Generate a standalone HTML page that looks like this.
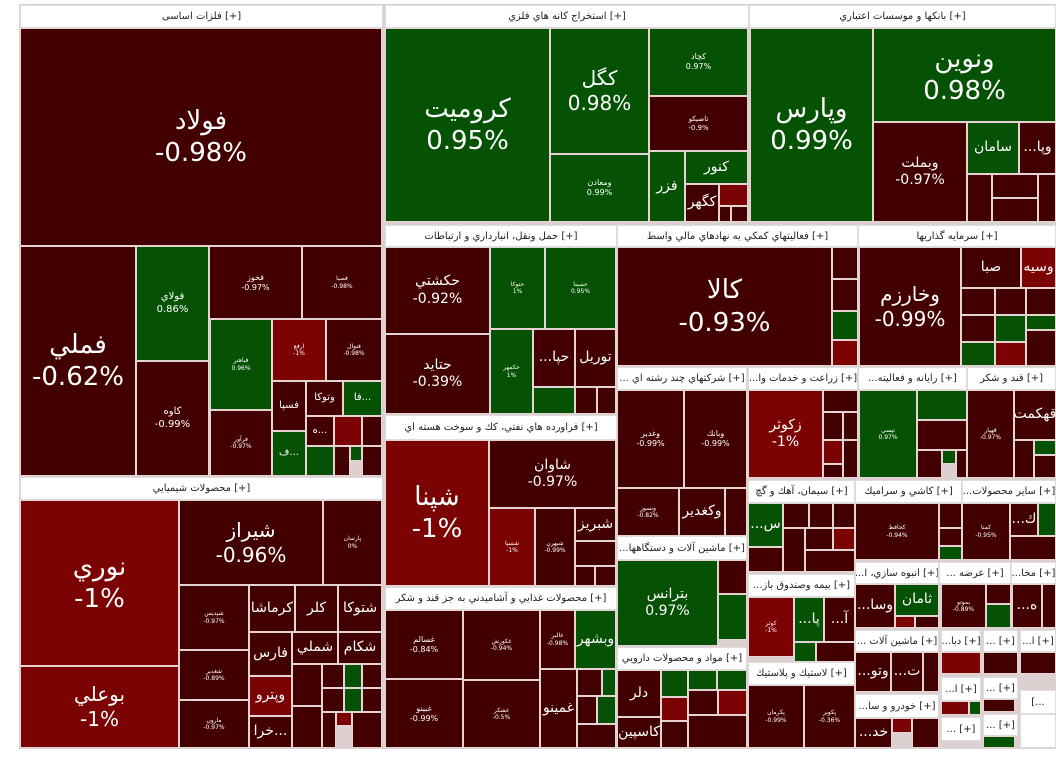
<!DOCTYPE html>
<html><head><meta charset="utf-8"><style>
body{margin:0;width:1056px;height:778px;background:#fff;position:relative;overflow:hidden;font-family:"DejaVu Sans","Liberation Sans",sans-serif}
.t{position:absolute;box-sizing:border-box;border:1px solid #e6d4d4;color:#fff;display:flex;flex-direction:column;align-items:center;justify-content:center;text-align:center;overflow:hidden;line-height:1.25;white-space:nowrap}
.d{background:#430000}.g{background:#055205}.r{background:#7c0303}
.h{position:absolute;box-sizing:border-box;background:#fff;color:#222;font-size:10px;text-align:center;border:1px solid #ddd;display:flex;align-items:center;justify-content:center;white-space:nowrap;overflow:hidden}
.xl{font-size:26px}.l{font-size:20px}.m{font-size:14px}.s{font-size:10px}.xs{font-size:6px}
#bg{position:absolute;left:19px;top:4px;width:1037px;height:745px;background:#ddd0d0}
</style></head><body>
<div id="bg"></div>
<!-- فلزات اساسی -->
<div class="h" style="left:20px;top:5px;width:363px;height:23px">فلزات اساسی [+]</div>
<div class="t d xl" style="left:20px;top:28px;width:362px;height:218px">فولاد<br>-0.98%</div>
<div class="t d xl" style="left:20px;top:246px;width:116px;height:230px">فملي<br>-0.62%</div>
<div class="t g s" style="left:136px;top:246px;width:73px;height:115px">فولاي<br>0.86%</div>
<div class="t d s" style="left:136px;top:361px;width:73px;height:115px">كاوه<br>-0.99%</div>
<div class="t d xs" style="left:209px;top:246px;width:93px;height:73px"><span class="s" style="font-size:8px">فخوز<br>-0.97%</span></div>
<div class="t d xs" style="left:302px;top:246px;width:80px;height:73px">فصبا<br>-0.98%</div>
<div class="t g xs" style="left:210px;top:319px;width:62px;height:91px">فباهنر<br>0.96%</div>
<div class="t d xs" style="left:210px;top:410px;width:62px;height:66px">فرآور<br>-0.97%</div>
<div class="t r xs" style="left:272px;top:319px;width:54px;height:62px">ارفع<br>-1%</div>
<div class="t d xs" style="left:326px;top:319px;width:56px;height:62px">فنوال<br>-0.98%</div>
<div class="t d s" style="left:272px;top:381px;width:34px;height:50px">فسپا</div>
<div class="t d s" style="left:306px;top:381px;width:37px;height:35px">وتوكا</div>
<div class="t g s" style="left:343px;top:381px;width:39px;height:35px">فا...</div>
<div class="t g s" style="left:272px;top:431px;width:34px;height:45px">ف...</div>
<div class="t d s" style="left:306px;top:416px;width:28px;height:30px">ه...</div>
<div class="t r" style="left:334px;top:416px;width:28px;height:30px"></div>
<div class="t d" style="left:362px;top:416px;width:20px;height:30px"></div>
<div class="t g" style="left:306px;top:446px;width:28px;height:30px"></div>
<div class="t d" style="left:334px;top:446px;width:16px;height:30px"></div>
<div class="t g" style="left:350px;top:446px;width:12px;height:15px"></div>
<div class="t d" style="left:362px;top:446px;width:20px;height:30px"></div>
<!-- محصولات شيميايي -->
<div class="h" style="left:20px;top:477px;width:363px;height:23px">محصولات شيميايي [+]</div>
<div class="t r xl" style="left:20px;top:500px;width:159px;height:166px">نوري<br>-1%</div>
<div class="t r l" style="left:20px;top:666px;width:159px;height:82px">بوعلي<br>-1%</div>
<div class="t d l" style="left:179px;top:500px;width:144px;height:85px">شيراز<br>-0.96%</div>
<div class="t d xs" style="left:323px;top:500px;width:59px;height:85px">پارسان<br>0%</div>
<div class="t d xs" style="left:179px;top:585px;width:70px;height:65px">شپديس<br>-0.97%</div>
<div class="t d xs" style="left:179px;top:650px;width:70px;height:50px">شغدير<br>-0.89%</div>
<div class="t d xs" style="left:179px;top:700px;width:70px;height:48px">مارون<br>-0.97%</div>
<div class="t d m" style="left:249px;top:585px;width:46px;height:47px">كرماشا</div>
<div class="t d m" style="left:295px;top:585px;width:43px;height:47px">كلر</div>
<div class="t d m" style="left:338px;top:585px;width:44px;height:47px">شتوكا</div>
<div class="t d m" style="left:249px;top:632px;width:43px;height:44px">فارس</div>
<div class="t d m" style="left:292px;top:632px;width:46px;height:32px">شملي</div>
<div class="t d m" style="left:338px;top:632px;width:44px;height:32px">شكام</div>
<div class="t r m" style="left:249px;top:676px;width:43px;height:40px">وپترو</div>
<div class="t d m" style="left:249px;top:716px;width:43px;height:32px">خرا...</div>
<div class="t d" style="left:292px;top:664px;width:30px;height:42px"></div>
<div class="t d" style="left:322px;top:664px;width:22px;height:24px"></div>
<div class="t g" style="left:344px;top:664px;width:18px;height:24px"></div>
<div class="t d" style="left:362px;top:664px;width:20px;height:24px"></div>
<div class="t d" style="left:322px;top:688px;width:22px;height:24px"></div>
<div class="t g" style="left:344px;top:688px;width:18px;height:24px"></div>
<div class="t d" style="left:362px;top:688px;width:20px;height:24px"></div>
<div class="t d" style="left:292px;top:706px;width:30px;height:42px"></div>
<div class="t d" style="left:322px;top:712px;width:14px;height:36px"></div>
<div class="t r" style="left:336px;top:712px;width:16px;height:14px"></div>
<div class="t d" style="left:352px;top:712px;width:30px;height:36px"></div>
<!-- استخراج -->
<div class="h" style="left:385px;top:5px;width:364px;height:23px">استخراج كانه هاي فلزي [+]</div>
<div class="t g xl" style="left:385px;top:28px;width:165px;height:194px">كروميت<br>0.95%</div>
<div class="t g l" style="left:550px;top:28px;width:99px;height:126px">كگل<br>0.98%</div>
<div class="t g" style="left:550px;top:154px;width:99px;height:68px;font-size:8px">ومعادن<br>0.99%</div>
<div class="t g" style="left:649px;top:28px;width:99px;height:68px;font-size:8px">كچاد<br>0.97%</div>
<div class="t d" style="left:649px;top:96px;width:99px;height:55px;font-size:7px">تاصيكو<br>-0.9%</div>
<div class="t g m" style="left:649px;top:151px;width:36px;height:71px">فزر</div>
<div class="t g m" style="left:685px;top:151px;width:63px;height:33px">كنور</div>
<div class="t d m" style="left:685px;top:184px;width:34px;height:38px">كگهر</div>
<div class="t r" style="left:719px;top:184px;width:29px;height:22px"></div>
<div class="t d" style="left:719px;top:206px;width:12px;height:16px"></div>
<div class="t d" style="left:731px;top:206px;width:17px;height:16px"></div>
<!-- بانكها -->
<div class="h" style="left:749px;top:5px;width:307px;height:23px">بانكها و موسسات اعتباري [+]</div>
<div class="t g xl" style="left:750px;top:28px;width:123px;height:194px">وپارس<br>0.99%</div>
<div class="t g xl" style="left:873px;top:28px;width:183px;height:94px">ونوين<br>0.98%</div>
<div class="t d m" style="left:873px;top:122px;width:94px;height:100px">وبملت<br>-0.97%</div>
<div class="t g m" style="left:967px;top:122px;width:52px;height:52px">سامان</div>
<div class="t d m" style="left:1019px;top:122px;width:37px;height:52px">...وپا</div>
<div class="t d" style="left:967px;top:174px;width:25px;height:48px"></div>
<div class="t d" style="left:992px;top:174px;width:46px;height:24px"></div>
<div class="t d" style="left:992px;top:198px;width:46px;height:24px"></div>
<div class="t d" style="left:1038px;top:174px;width:18px;height:48px"></div>
<!-- حمل ونقل -->
<div class="h" style="left:385px;top:225px;width:232px;height:22px">حمل ونقل، انبارداري و ارتباطات [+]</div>
<div class="t d m" style="left:385px;top:247px;width:105px;height:87px">حكشتي<br>-0.92%</div>
<div class="t d m" style="left:385px;top:334px;width:105px;height:80px">حتايد<br>-0.39%</div>
<div class="t g xs" style="left:490px;top:247px;width:55px;height:82px">حتوكا<br>1%</div>
<div class="t g xs" style="left:545px;top:247px;width:71px;height:82px">حسينا<br>0.95%</div>
<div class="t g xs" style="left:490px;top:329px;width:43px;height:85px">حكمهر<br>1%</div>
<div class="t d m" style="left:533px;top:329px;width:42px;height:58px">...حپا</div>
<div class="t d m" style="left:575px;top:329px;width:41px;height:58px">توريل</div>
<div class="t g" style="left:533px;top:387px;width:42px;height:27px"></div>
<div class="t d" style="left:575px;top:387px;width:22px;height:27px"></div>
<div class="t d" style="left:597px;top:387px;width:19px;height:27px"></div>
<!-- فعاليتهاي كمكي -->
<div class="h" style="left:617px;top:225px;width:241px;height:22px">فعاليتهاي كمكي به نهادهاي مالي واسط [+]</div>
<div class="t d xl" style="left:617px;top:247px;width:215px;height:119px">كالا<br>-0.93%</div>
<div class="t d" style="left:832px;top:247px;width:26px;height:32px"></div>
<div class="t d" style="left:832px;top:279px;width:26px;height:32px"></div>
<div class="t g" style="left:832px;top:311px;width:26px;height:29px"></div>
<div class="t r" style="left:832px;top:340px;width:26px;height:26px"></div>
<!-- سرمايه گذاريها -->
<div class="h" style="left:858px;top:225px;width:198px;height:22px">سرمايه گذاريها [+]</div>
<div class="t d l" style="left:859px;top:247px;width:102px;height:119px">وخارزم<br>-0.99%</div>
<div class="t d m" style="left:961px;top:247px;width:60px;height:41px">صبا</div>
<div class="t r m" style="left:1021px;top:247px;width:35px;height:41px">وسيه</div>
<div class="t d" style="left:961px;top:288px;width:34px;height:27px"></div>
<div class="t d" style="left:995px;top:288px;width:31px;height:27px"></div>
<div class="t d" style="left:1026px;top:288px;width:30px;height:27px"></div>
<div class="t d" style="left:961px;top:315px;width:34px;height:27px"></div>
<div class="t g" style="left:995px;top:315px;width:31px;height:27px"></div>
<div class="t g" style="left:1026px;top:315px;width:30px;height:15px"></div>
<div class="t g" style="left:961px;top:342px;width:34px;height:24px"></div>
<div class="t r" style="left:995px;top:342px;width:31px;height:24px"></div>
<div class="t d" style="left:1026px;top:330px;width:30px;height:36px"></div>
<!-- فراورده هاي نفتي -->
<div class="h" style="left:385px;top:415px;width:232px;height:25px">فراورده هاي نفتي، كك و سوخت هسته اي [+]</div>
<div class="t r xl" style="left:385px;top:440px;width:104px;height:146px">شپنا<br>-1%</div>
<div class="t d m" style="left:489px;top:440px;width:127px;height:68px">شاوان<br>-0.97%</div>
<div class="t r xs" style="left:489px;top:508px;width:46px;height:78px">شسپا<br>-1%</div>
<div class="t d xs" style="left:535px;top:508px;width:40px;height:78px">شبهرن<br>-0.99%</div>
<div class="t d m" style="left:575px;top:508px;width:41px;height:33px">شبريز</div>
<div class="t d" style="left:575px;top:541px;width:41px;height:25px"></div>
<div class="t d" style="left:575px;top:566px;width:20px;height:20px"></div>
<div class="t d" style="left:595px;top:566px;width:21px;height:20px"></div>
<!-- غذايي -->
<div class="h" style="left:385px;top:587px;width:232px;height:23px">محصولات غذايي و آشاميدني به جز قند و شكر [+]</div>
<div class="t d" style="left:385px;top:610px;width:78px;height:69px;font-size:8px">غسالم<br>-0.84%</div>
<div class="t d xs" style="left:463px;top:610px;width:77px;height:70px">غكورش<br>-0.94%</div>
<div class="t d" style="left:385px;top:679px;width:78px;height:69px;font-size:8px">غبينو<br>-0.99%</div>
<div class="t d xs" style="left:463px;top:680px;width:77px;height:68px">غشكر<br>-0.5%</div>
<div class="t d xs" style="left:540px;top:610px;width:35px;height:59px">غالبر<br>-0.98%</div>
<div class="t g m" style="left:575px;top:610px;width:41px;height:59px">وبشهر</div>
<div class="t d m" style="left:540px;top:669px;width:37px;height:79px">غمينو</div>
<div class="t d" style="left:577px;top:669px;width:25px;height:27px"></div>
<div class="t g" style="left:602px;top:669px;width:14px;height:27px"></div>
<div class="t d" style="left:577px;top:696px;width:20px;height:28px"></div>
<div class="t g" style="left:597px;top:696px;width:19px;height:28px"></div>
<div class="t d" style="left:577px;top:724px;width:39px;height:24px"></div>
<!-- چند رشته اي -->
<div class="h" style="left:617px;top:367px;width:130px;height:23px">... شركتهاي چند رشته اي [+]</div>
<div class="t d" style="left:617px;top:390px;width:67px;height:98px;font-size:8px">وغدير<br>-0.99%</div>
<div class="t d" style="left:684px;top:390px;width:63px;height:98px;font-size:8px">وبانك<br>-0.99%</div>
<div class="t d xs" style="left:617px;top:488px;width:62px;height:48px">ونسوز<br>-0.82%</div>
<div class="t d m" style="left:679px;top:488px;width:46px;height:48px">وكغدير</div>
<div class="t d" style="left:725px;top:488px;width:22px;height:48px"></div>
<!-- ماشين آلات -->
<div class="h" style="left:617px;top:536px;width:130px;height:24px">...ماشين آلات و دستگاهها [+]</div>
<div class="t g m" style="left:617px;top:560px;width:101px;height:86px">بترانس<br>0.97%</div>
<div class="t d" style="left:718px;top:560px;width:29px;height:34px"></div>
<div class="t g" style="left:718px;top:594px;width:29px;height:46px"></div>
<!-- دارويي -->
<div class="h" style="left:617px;top:647px;width:130px;height:23px">مواد و محصولات دارويي [+]</div>
<div class="t d m" style="left:617px;top:670px;width:44px;height:47px">دلر</div>
<div class="t d m" style="left:617px;top:717px;width:44px;height:31px">كاسپين</div>
<div class="t g" style="left:661px;top:670px;width:27px;height:27px"></div>
<div class="t g" style="left:688px;top:670px;width:29px;height:20px"></div>
<div class="t g" style="left:717px;top:670px;width:30px;height:20px"></div>
<div class="t r" style="left:661px;top:697px;width:27px;height:24px"></div>
<div class="t d" style="left:661px;top:721px;width:27px;height:27px"></div>
<div class="t d" style="left:688px;top:690px;width:30px;height:25px"></div>
<div class="t r" style="left:718px;top:690px;width:29px;height:25px"></div>
<div class="t d" style="left:688px;top:715px;width:59px;height:33px"></div>
<!-- زراعت -->
<div class="h" style="left:748px;top:367px;width:110px;height:23px">...زراعت و خدمات وا [+]</div>
<div class="t r m" style="left:748px;top:390px;width:75px;height:88px">زكوثر<br>-1%</div>
<div class="t d" style="left:823px;top:390px;width:35px;height:22px"></div>
<div class="t d" style="left:823px;top:412px;width:20px;height:28px"></div>
<div class="t d" style="left:843px;top:412px;width:15px;height:28px"></div>
<div class="t r" style="left:823px;top:440px;width:20px;height:24px"></div>
<div class="t d" style="left:843px;top:440px;width:15px;height:38px"></div>
<div class="t d" style="left:823px;top:464px;width:20px;height:14px"></div>
<!-- رايانه -->
<div class="h" style="left:858px;top:367px;width:109px;height:23px">...رايانه و فعاليته [+]</div>
<div class="t g xs" style="left:859px;top:390px;width:58px;height:88px">تپسي<br>0.97%</div>
<div class="t g" style="left:917px;top:390px;width:50px;height:30px"></div>
<div class="t d" style="left:917px;top:420px;width:50px;height:30px"></div>
<div class="t d" style="left:917px;top:450px;width:25px;height:28px"></div>
<div class="t g" style="left:942px;top:450px;width:14px;height:14px"></div>
<div class="t d" style="left:956px;top:450px;width:11px;height:28px"></div>
<!-- قند و شكر -->
<div class="h" style="left:967px;top:367px;width:89px;height:23px">قند و شكر [+]</div>
<div class="t d xs" style="left:967px;top:390px;width:47px;height:88px">قهپار<br>-0.97%</div>
<div class="t d m" style="left:1014px;top:390px;width:42px;height:50px">قهكمت</div>
<div class="t d" style="left:1014px;top:440px;width:20px;height:38px"></div>
<div class="t g" style="left:1034px;top:440px;width:22px;height:15px"></div>
<div class="t d" style="left:1034px;top:455px;width:22px;height:23px"></div>
<!-- سيمان -->
<div class="h" style="left:748px;top:480px;width:107px;height:23px">سيمان، آهك و گچ [+]</div>
<div class="t g m" style="left:748px;top:503px;width:35px;height:44px">...س</div>
<div class="t d" style="left:748px;top:547px;width:35px;height:25px"></div>
<div class="t d" style="left:783px;top:503px;width:26px;height:25px"></div>
<div class="t d" style="left:809px;top:503px;width:24px;height:25px"></div>
<div class="t d" style="left:833px;top:503px;width:22px;height:25px"></div>
<div class="t d" style="left:783px;top:528px;width:22px;height:44px"></div>
<div class="t d" style="left:805px;top:528px;width:28px;height:22px"></div>
<div class="t r" style="left:833px;top:528px;width:22px;height:22px"></div>
<div class="t d" style="left:805px;top:550px;width:50px;height:22px"></div>
<!-- كاشي -->
<div class="h" style="left:855px;top:480px;width:107px;height:23px">كاشي و سراميك [+]</div>
<div class="t d xs" style="left:855px;top:503px;width:84px;height:57px">كحافظ<br>-0.94%</div>
<div class="t d" style="left:939px;top:503px;width:23px;height:25px"></div>
<div class="t d" style="left:939px;top:528px;width:23px;height:18px"></div>
<div class="t g" style="left:939px;top:546px;width:23px;height:14px"></div>
<!-- ساير -->
<div class="h" style="left:962px;top:480px;width:94px;height:23px">...ساير محصولات [+]</div>
<div class="t d xs" style="left:962px;top:503px;width:48px;height:57px">كمنا<br>-0.95%</div>
<div class="t d m" style="left:1010px;top:503px;width:28px;height:33px">...ك</div>
<div class="t g" style="left:1038px;top:503px;width:18px;height:33px"></div>
<div class="t d" style="left:1010px;top:536px;width:46px;height:24px"></div>
<!-- بيمه -->
<div class="h" style="left:748px;top:574px;width:107px;height:23px">...بيمه وصندوق باز [+]</div>
<div class="t r xs" style="left:748px;top:597px;width:46px;height:60px">كوثر<br>-1%</div>
<div class="t g m" style="left:794px;top:597px;width:30px;height:45px">...پا</div>
<div class="t d m" style="left:824px;top:597px;width:31px;height:45px">...آ</div>
<div class="t g" style="left:794px;top:642px;width:22px;height:20px"></div>
<div class="t d" style="left:816px;top:642px;width:39px;height:20px"></div>
<!-- لاستيك -->
<div class="h" style="left:748px;top:662px;width:107px;height:23px">لاستيك و پلاستيك [+]</div>
<div class="t d xs" style="left:748px;top:685px;width:56px;height:63px">پكرمان<br>-0.99%</div>
<div class="t d xs" style="left:804px;top:685px;width:51px;height:63px">پكوير<br>-0.36%</div>
<!-- انبوه سازي -->
<div class="h" style="left:855px;top:562px;width:84px;height:22px">...انبوه سازي، ا [+]</div>
<div class="t d m" style="left:855px;top:584px;width:40px;height:44px">...وسا</div>
<div class="t g m" style="left:895px;top:584px;width:44px;height:32px">ثامان</div>
<div class="t r" style="left:895px;top:616px;width:20px;height:12px"></div>
<div class="t d" style="left:915px;top:616px;width:24px;height:12px"></div>
<!-- ماشين آلات 2 -->
<div class="h" style="left:855px;top:630px;width:84px;height:22px">... ماشين آلات [+]</div>
<div class="t d m" style="left:855px;top:652px;width:36px;height:40px">...وتو</div>
<div class="t d m" style="left:891px;top:652px;width:32px;height:40px">...ت</div>
<div class="t d" style="left:923px;top:652px;width:16px;height:40px"></div>
<!-- خودرو -->
<div class="h" style="left:855px;top:694px;width:84px;height:24px">...خودرو و سا [+]</div>
<div class="t d m" style="left:855px;top:718px;width:37px;height:30px">...خد</div>
<div class="t r" style="left:892px;top:718px;width:20px;height:15px"></div>
<div class="t d" style="left:912px;top:718px;width:27px;height:30px"></div>
<!-- عرضه -->
<div class="h" style="left:939px;top:562px;width:72px;height:22px">... عرضه [+]</div>
<div class="t d xs" style="left:941px;top:584px;width:45px;height:44px">بموتو<br>-0.89%</div>
<div class="t d" style="left:986px;top:584px;width:25px;height:20px"></div>
<div class="t g" style="left:986px;top:604px;width:25px;height:24px"></div>
<!-- مخا -->
<div class="h" style="left:1011px;top:562px;width:45px;height:22px">...مخا [+]</div>
<div class="t d m" style="left:1012px;top:584px;width:30px;height:44px">...ه</div>
<div class="t d" style="left:1042px;top:584px;width:14px;height:44px"></div>
<!-- small -->
<div class="h" style="left:941px;top:630px;width:40px;height:22px">...دبا [+]</div>
<div class="t r" style="left:941px;top:652px;width:40px;height:22px"></div>
<div class="h" style="left:983px;top:630px;width:35px;height:22px">... [+]</div>
<div class="t d" style="left:983px;top:652px;width:35px;height:22px"></div>
<div class="h" style="left:1020px;top:630px;width:36px;height:22px">...ا [+]</div>
<div class="t d" style="left:1020px;top:652px;width:36px;height:22px"></div>
<div class="h" style="left:941px;top:677px;width:40px;height:24px">...ا [+]</div>
<div class="t r" style="left:941px;top:701px;width:28px;height:14px"></div>
<div class="t g" style="left:969px;top:701px;width:12px;height:14px"></div>
<div class="h" style="left:983px;top:677px;width:35px;height:22px">... [+]</div>
<div class="t d" style="left:983px;top:699px;width:32px;height:13px"></div>
<div class="h" style="left:1020px;top:690px;width:36px;height:24px">[...</div>
<div class="h" style="left:941px;top:717px;width:40px;height:24px">... [+]</div>
<div class="h" style="left:983px;top:714px;width:35px;height:22px">... [+]</div>
<div class="t g" style="left:983px;top:736px;width:32px;height:12px"></div>
<div class="h" style="left:1020px;top:714px;width:36px;height:34px"></div>
</body></html>
